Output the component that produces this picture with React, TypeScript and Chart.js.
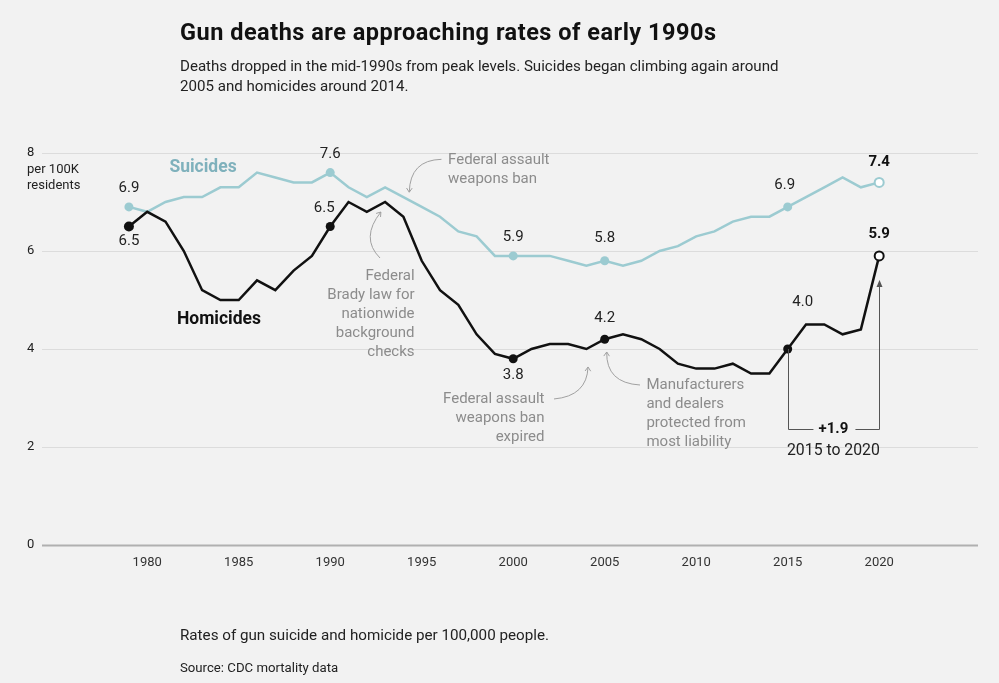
import React, { useEffect, useRef } from "react";
import { Chart, registerables } from "chart.js";
Chart.register(...registerables);

const years = [1979, 1980, 1981, 1982, 1983, 1984, 1985, 1986, 1987, 1988, 1989, 1990, 1991, 1992, 1993, 1994, 1995, 1996, 1997, 1998, 1999, 2000, 2001, 2002, 2003, 2004, 2005, 2006, 2007, 2008, 2009, 2010, 2011, 2012, 2013, 2014, 2015, 2016, 2017, 2018, 2019, 2020];
const suicides = [6.9, 6.8, 7.0, 7.1, 7.1, 7.3, 7.3, 7.6, 7.5, 7.4, 7.4, 7.6, 7.3, 7.1, 7.3, 7.1, 6.9, 6.7, 6.4, 6.3, 5.9, 5.9, 5.9, 5.9, 5.8, 5.7, 5.8, 5.7, 5.8, 6.0, 6.1, 6.3, 6.4, 6.6, 6.7, 6.7, 6.9, 7.1, 7.3, 7.5, 7.3, 7.4];
const homicides = [6.5, 6.8, 6.6, 6.0, 5.2, 5.0, 5.0, 5.4, 5.2, 5.6, 5.9, 6.5, 7.0, 6.8, 7.0, 6.7, 5.8, 5.2, 4.9, 4.3, 3.9, 3.8, 4.0, 4.1, 4.1, 4.0, 4.2, 4.3, 4.2, 4.0, 3.7, 3.6, 3.6, 3.7, 3.5, 3.5, 4.0, 4.5, 4.5, 4.3, 4.4, 5.9];
const highlightYears = [1979, 1990, 2000, 2005, 2015];
const openYears = [2020];
const xTickYears = [1980, 1985, 1990, 1995, 2000, 2005, 2010, 2015, 2020];
const yTickValues = [0, 2, 4, 6, 8];

const SUI = "#9ccbd1";
const SUI_TEXT = "#7fb1bc";
const HOM = "#111111";
const GRAY = "#8c8c8c";
const FONT = "Roboto, 'Liberation Sans', sans-serif";

// value labels: [year, dx, dy, bold]
const suicideLabels: [number, number, number, boolean][] = [
  [1979, 0, -19, false],
  [1990, 0, -18, false],
  [2000, 0, -19, false],
  [2005, 0, -23, false],
  [2015, -3, -22, false],
  [2020, 0, -20, true],
];
const homicideLabels: [number, number, number, boolean][] = [
  [1979, 0, 15, false],
  [1990, -6, -18, false],
  [2000, 0, 16, false],
  [2005, 0, -21, false],
  [2015, 15, -47, false],
  [2020, 0, -22, true],
];

type Note = { lines: string[]; x: number; y: number; align: CanvasTextAlign };
const notes: Note[] = [
  { lines: ["Federal assault", "weapons ban"], x: 1996.44, y: 7.857, align: "left" },
  { lines: ["Federal", "Brady law for", "nationwide", "background", "checks"], x: 1994.61, y: 5.48, align: "right" },
  { lines: ["Federal assault", "weapons ban", "expired"], x: 2001.71, y: 2.98, align: "right" },
  { lines: ["Manufacturers", "and dealers", "protected from", "most liability"], x: 2007.28, y: 3.265, align: "left" },
];
// curved arrows: start, control, end in data units
const arrows: number[][] = [
  [1996.08, 7.871, 1994.36, 7.857, 1994.32, 7.2],
  [1992.72, 5.857, 1991.63, 6.265, 1992.77, 6.796],
  [2002.23, 2.98, 2004.03, 3.04, 2004.09, 3.633],
  [2006.93, 3.265, 2005.07, 3.306, 2005.11, 3.939],
];

export default function App() {
  const ref = useRef<HTMLCanvasElement>(null);
  useEffect(() => {
    const canvas = ref.current;
    if (!canvas) return;
    const pts = (vals: number[]) => years.map((y, i) => ({ x: y, y: vals[i] }));
    const radius = (ctx: any) => {
      const yr = years[ctx.dataIndex];
      if (highlightYears.includes(yr)) return ctx.datasetIndex === 0 && yr === 1979 ? 5 : 4.5;
      if (openYears.includes(yr)) return 4.5;
      return 0;
    };
    const bg = (color: string) => (ctx: any) => (openYears.includes(years[ctx.dataIndex]) ? "#ffffff" : color);
    const bw = (ctx: any) => (openYears.includes(years[ctx.dataIndex]) ? 2 : 0);

    const plugin = {
      id: "decor",
      beforeDatasetsDraw(chart: any) {
        const { ctx, chartArea, scales } = chart;
        const ys = scales.y;
        ctx.save();
        yTickValues.forEach((v) => {
          const py = Math.round(ys.getPixelForValue(v)) + 0.5;
          ctx.beginPath();
          ctx.strokeStyle = v === 0 ? "#b0b0b0" : "#dcdcdc";
          ctx.lineWidth = v === 0 ? 2 : 1;
          ctx.moveTo(chartArea.left, py);
          ctx.lineTo(chartArea.right, py);
          ctx.stroke();
        });
        ctx.restore();
      },
      afterDatasetsDraw(chart: any) {
        const { ctx, chartArea, scales } = chart;
        const xs = scales.x;
        const ys = scales.y;
        const X = (v: number) => xs.getPixelForValue(v);
        const Y = (v: number) => ys.getPixelForValue(v);
        ctx.save();
        // y tick labels
        ctx.fillStyle = "#222";
        ctx.textAlign = "left";
        ctx.textBaseline = "middle";
        ctx.font = `13px ${FONT}`;
        yTickValues.forEach((v) => ctx.fillText(String(v), chartArea.left - 15, Y(v)));
        ctx.fillText("per 100K", chartArea.left - 15, Y(8) + 17);
        ctx.fillText("residents", chartArea.left - 15, Y(8) + 33);
        // x tick labels
        ctx.textAlign = "center";
        ctx.fillStyle = "#333";
        xTickYears.forEach((yr) => ctx.fillText(String(yr), X(yr), chartArea.bottom + 18));
        // value labels
        const drawVals = (labels: [number, number, number, boolean][], vals: number[]) => {
          labels.forEach(([yr, dx, dy, bold]) => {
            const v = vals[years.indexOf(yr)];
            ctx.font = `${bold ? "700 " : ""}15px ${FONT}`;
            ctx.fillStyle = bold ? "#111" : "#222";
            ctx.textAlign = "center";
            ctx.fillText(v.toFixed(1), X(yr) + dx, Y(v) + dy);
          });
        };
        drawVals(suicideLabels, suicides);
        drawVals(homicideLabels, homicides);
        // series labels
        ctx.font = `700 17.5px ${FONT}`;
        ctx.fillStyle = SUI_TEXT;
        ctx.fillText("Suicides", X(1983.05), Y(7.71));
        ctx.fillStyle = HOM;
        ctx.fillText("Homicides", X(1983.92), Y(4.59));
        // notes
        ctx.font = `15px ${FONT}`;
        ctx.fillStyle = GRAY;
        notes.forEach((n) => {
          ctx.textAlign = n.align;
          n.lines.forEach((l, i) => ctx.fillText(l, X(n.x), Y(n.y) + i * 19));
        });
        // arrows
        ctx.strokeStyle = "#a0a0a0";
        ctx.lineWidth = 1;
        arrows.forEach((a) => {
          const [sx, sy, cx, cy, ex, ey] = [X(a[0]), Y(a[1]), X(a[2]), Y(a[3]), X(a[4]), Y(a[5])];
          ctx.beginPath();
          ctx.moveTo(sx, sy);
          ctx.quadraticCurveTo(cx, cy, ex, ey);
          ctx.stroke();
          const ang = Math.atan2(ey - cy, ex - cx);
          const L = 5;
          ctx.beginPath();
          ctx.moveTo(ex - L * Math.cos(ang - 0.6), ey - L * Math.sin(ang - 0.6));
          ctx.lineTo(ex, ey);
          ctx.lineTo(ex - L * Math.cos(ang + 0.6), ey - L * Math.sin(ang + 0.6));
          ctx.stroke();
        });
        // bracket 2015 -> 2020
        const x1 = X(2015);
        const x2 = X(2020);
        const yb = Y(2.36);
        const yTop = Y(5.39);
        const mid = (x1 + x2) / 2;
        ctx.strokeStyle = "#555";
        ctx.lineWidth = 1;
        ctx.beginPath();
        ctx.moveTo(Math.round(x1) + 0.5, Y(homicides[years.indexOf(2015)]));
        ctx.lineTo(Math.round(x1) + 0.5, Math.round(yb) + 0.5);
        ctx.lineTo(mid - 20, Math.round(yb) + 0.5);
        ctx.moveTo(mid + 22, Math.round(yb) + 0.5);
        ctx.lineTo(Math.round(x2) + 0.5, Math.round(yb) + 0.5);
        ctx.lineTo(Math.round(x2) + 0.5, yTop);
        ctx.stroke();
        ctx.fillStyle = "#555";
        ctx.beginPath();
        ctx.moveTo(Math.round(x2) + 0.5, yTop - 1);
        ctx.lineTo(Math.round(x2) - 2.5, yTop + 6);
        ctx.lineTo(Math.round(x2) + 3.5, yTop + 6);
        ctx.closePath();
        ctx.fill();
        ctx.textAlign = "center";
        ctx.fillStyle = "#111";
        ctx.font = `700 15px ${FONT}`;
        ctx.fillText("+" + (homicides[years.indexOf(2020)] - homicides[years.indexOf(2015)]).toFixed(1), mid, yb);
        ctx.font = `15.8px ${FONT}`;
        ctx.fillStyle = "#222";
        ctx.fillText("2015 to 2020", mid, Y(1.92));
        ctx.restore();
      },
    };

    const chart = new Chart(canvas, {
      type: "line",
      data: {
        datasets: [
          {
            label: "Homicides",
            data: pts(homicides),
            borderColor: HOM,
            borderWidth: 2.5,
            pointRadius: radius,
            pointBackgroundColor: bg(HOM),
            pointBorderColor: HOM,
            pointBorderWidth: bw,
            tension: 0,
          },
          {
            label: "Suicides",
            data: pts(suicides),
            borderColor: SUI,
            borderWidth: 2.5,
            pointRadius: radius,
            pointBackgroundColor: bg(SUI),
            pointBorderColor: SUI,
            pointBorderWidth: bw,
            tension: 0,
          },
        ],
      },
      options: {
        animation: false,
        responsive: false,
        events: [],
        layout: { padding: { left: 42, right: 21, top: 153, bottom: 138 } },
        plugins: { legend: { display: false }, tooltip: { enabled: false } },
        scales: {
          x: { type: "linear", min: 1974.25, max: 2025.4, display: false },
          y: { type: "linear", min: 0, max: 8, display: false },
        },
      },
      plugins: [plugin],
    });
    return () => chart.destroy();
  }, []);

  const text = (top: number, size: number, weight: number, color: string, lh: number, ls = 0): React.CSSProperties => ({
    position: "absolute",
    left: 180,
    top,
    fontFamily: FONT,
    fontSize: size,
    fontWeight: weight,
    color,
    lineHeight: `${lh}px`,
    letterSpacing: ls,
    margin: 0,
    whiteSpace: "nowrap",
  });

  return (
    <div style={{ position: "fixed", left: 0, top: 0, width: 999, height: 683, background: "#f2f2f2", overflow: "hidden" }}>
      <canvas ref={ref} width={999} height={683} style={{ position: "absolute", left: 0, top: 0, width: 999, height: 683 }} />
      <div style={text(18, 23.5, 700, "#111", 28, 0.5)}>Gun deaths are approaching rates of early 1990s</div>
      <div style={text(56, 15.1, 400, "#222", 20)}>
        Deaths dropped in the mid-1990s from peak levels. Suicides began climbing again around
        <br />
        2005 and homicides around 2014.
      </div>
      <div style={text(625, 15.2, 400, "#222", 20)}>Rates of gun suicide and homicide per 100,000 people.</div>
      <div style={text(660, 13.2, 400, "#222", 16)}>Source: CDC mortality data</div>
    </div>
  );
}
